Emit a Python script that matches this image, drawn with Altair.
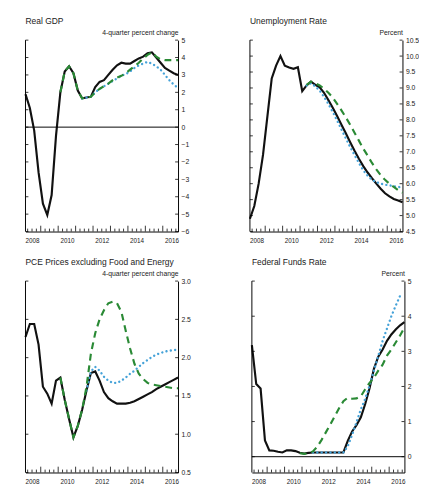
import altair as alt
import pandas as pd

# ---- data (quarterly, 2008Q1 .. 2016Q4) ----
years = list(range(2008, 2017))
quarter_pos = [y + (q - 0.5) / 4 for y in years for q in range(1, 5)]  # quarter centres
year_labels = [2008, 2010, 2012, 2014, 2016]

gdp_black = [1.9, 1.1, -0.2, -2.6, -4.4, -5.05, -3.9, -0.5, 2.0, 3.2, 3.5, 3.1,
             2.1, 1.65, 1.7, 1.75, 2.3, 2.6, 2.7, 3.0, 3.3, 3.55, 3.7, 3.65,
             3.65, 3.8, 3.95, 4.05, 4.25, 4.3, 4.0, 3.7, 3.4, 3.25, 3.1, 3.0]
gdp_green_start = 8
gdp_green = [2.0, 3.2, 3.5, 3.1, 2.1, 1.65, 1.7, 1.75,
             2.0, 2.2, 2.35, 2.5, 2.7, 2.85, 2.95, 3.1,
             3.3, 3.5, 3.7, 3.95, 4.15, 4.3, 4.05, 3.9, 3.85, 3.85, 3.85, 3.85]
gdp_blue_start = 13
gdp_blue = [1.65, 1.7, 1.75, 2.0, 2.2, 2.35, 2.5, 2.65, 2.8, 2.95, 3.05,
            3.2, 3.4, 3.55, 3.65, 3.75, 3.65, 3.5, 3.3, 3.0, 2.7, 2.45, 2.25]

ur_black = [4.9, 5.3, 6.0, 6.9, 8.1, 9.3, 9.7, 10.0, 9.7, 9.64, 9.6, 9.65,
            8.9, 9.08, 9.2, 9.1, 9.02, 8.85, 8.62, 8.38, 8.12, 7.85, 7.58, 7.3,
            7.03, 6.78, 6.55, 6.35, 6.17, 6.0, 5.84, 5.7, 5.6, 5.52, 5.47, 5.42]
ur_green_start = 13
ur_green = [9.1, 9.2, 9.15, 9.08, 8.98, 8.85, 8.7, 8.5, 8.3, 8.08, 7.85, 7.6,
            7.35, 7.1, 6.88, 6.65, 6.45, 6.27, 6.12, 6.0, 5.9, 5.8, 5.72]
ur_blue_start = 13
ur_blue = [9.08, 9.15, 9.05, 8.92, 8.72, 8.5, 8.25, 7.98, 7.7, 7.42, 7.15, 6.9,
           6.65, 6.42, 6.25, 6.12, 6.05, 6.0, 5.97, 5.95, 5.92, 5.9, 5.88]

pce_black = [2.27, 2.44, 2.44, 2.17, 1.62, 1.53, 1.4, 1.7, 1.74, 1.45, 1.2, 0.96,
             1.11, 1.32, 1.57, 1.8, 1.82, 1.7, 1.55, 1.47, 1.43, 1.4, 1.4, 1.4,
             1.41, 1.43, 1.46, 1.49, 1.52, 1.55, 1.59, 1.62, 1.65, 1.68, 1.71, 1.74]
pce_green_start = 8
pce_green = [1.74, 1.45, 1.2, 0.96, 1.11, 1.32, 1.62, 2.05,
             2.32, 2.5, 2.62, 2.71, 2.73, 2.71, 2.6, 2.35,
             2.12, 1.92, 1.79, 1.72, 1.67, 1.65, 1.64, 1.63, 1.62, 1.61, 1.6, 1.6]
pce_blue_start = 14
pce_blue = [1.57, 1.82, 1.88, 1.83, 1.75, 1.7, 1.67, 1.67, 1.7, 1.74, 1.79,
            1.83, 1.88, 1.93, 1.97, 2.01, 2.04, 2.06, 2.08, 2.09, 2.1, 2.1]

ffr_black = [3.18, 2.07, 1.94, 0.46, 0.18, 0.17, 0.14, 0.12, 0.18, 0.18, 0.16, 0.11,
             0.09, 0.11, 0.12, 0.12, 0.12, 0.12, 0.12, 0.12, 0.12, 0.12,
             0.45, 0.72, 0.9, 1.12, 1.5, 1.95, 2.5, 2.85, 3.05, 3.3, 3.48, 3.62, 3.74, 3.83]
ffr_green_start = 11
ffr_green = [0.1, 0.08, 0.1, 0.15, 0.28, 0.48, 0.7, 0.92, 1.15, 1.38, 1.58, 1.68,
             1.65, 1.66, 1.72, 1.92, 2.1, 2.25, 2.45, 2.62, 2.88, 3.05, 3.25, 3.45, 3.68]
ffr_blue_start = 14
ffr_blue = [0.12, 0.12, 0.12, 0.12, 0.12, 0.12, 0.12, 0.12, 0.3, 0.62, 0.98,
            1.35, 1.65, 2.03, 2.45, 2.87, 3.3, 3.65, 4.0, 4.3, 4.58]

# ---- styling ----
FONT = "Liberation Sans"
W, H = 157, 197
BLACK = "#111111"
GREEN = "#2a8a35"
BLUE = "#45a2d8"
X_DOMAIN = [2008.125, 2016.875]


def series_df(values, start):
    return pd.DataFrame({"t": quarter_pos[start:start + len(values)], "value": values})


def panel(title, black, green, gstart, blue, bstart, ydom, yticks, yfmt, unit_label, zero_line):
    xs = alt.Scale(domain=X_DOMAIN, nice=False, zero=False)
    ys = alt.Scale(domain=ydom, nice=False, zero=False)

    xaxis = alt.Axis(values=[y + 0.5 for y in year_labels], labelExpr="toString(floor(datum.value))",
                     ticks=False, grid=False, domain=True, domainColor="#000", domainWidth=1,
                     labelFont=FONT, labelFontSize=6.5, labelColor="#222", labelPadding=6,
                     labelFlush=False, title=None)
    yaxis = alt.Axis(orient="right", values=yticks, format=yfmt, ticks=False, grid=False,
                     domain=True, domainColor="#000", domainWidth=1,
                     labelFont=FONT, labelFontSize=7, labelColor="#222", labelPadding=3,
                     title=unit_label, titleAngle=0, titleAlign="right", titleBaseline="alphabetic",
                     titleX=0, titleY=-6, titleFont=FONT, titleFontSize=7, titleFontWeight="normal",
                     titleColor="#222")
    X = lambda: alt.X("t:Q", scale=xs, axis=xaxis)
    Y = lambda: alt.Y("value:Q", scale=ys, axis=yaxis)

    layers = []
    # main line (history + baseline projection)
    layers.append(alt.Chart(series_df(black, 0)).mark_line(color=BLACK, strokeWidth=2.2).encode(x=X(), y=Y()))
    # left axis line
    layers.append(alt.Chart(pd.DataFrame({"a": [0]})).mark_rule(color="#000", strokeWidth=1).encode(
        x=alt.value(0), y=alt.value(0), y2=alt.value(H)))
    # y ticks (inward, both sides)
    tdf = pd.DataFrame({"value": yticks})
    layers.append(alt.Chart(tdf).mark_rule(color="#000", strokeWidth=0.8).encode(
        y=Y(), x=alt.value(0), x2=alt.value(3)))
    layers.append(alt.Chart(tdf).mark_rule(color="#000", strokeWidth=0.8).encode(
        y=Y(), x=alt.value(W - 3), x2=alt.value(W)))
    # quarter and year ticks on bottom axis
    qb = [y + k / 4 for y in years for k in range(4) if X_DOMAIN[0] < y + k / 4 < X_DOMAIN[1]]
    minor = pd.DataFrame({"t": [v for v in qb if v != int(v)]})
    major = pd.DataFrame({"t": [v for v in qb if v == int(v)]})
    layers.append(alt.Chart(minor).mark_rule(color="#000", strokeWidth=0.8).encode(
        x=X(), y=alt.value(H), y2=alt.value(H - 3)))
    layers.append(alt.Chart(major).mark_rule(color="#000", strokeWidth=0.8).encode(
        x=X(), y=alt.value(H), y2=alt.value(H - 6)))
    if zero_line:
        layers.append(alt.Chart(pd.DataFrame({"value": [0]})).mark_rule(color="#000", strokeWidth=1).encode(
            y=Y()))

    layers.append(alt.Chart(series_df(blue, bstart)).mark_line(
        color=BLUE, strokeWidth=2.4, strokeDash=[0.1, 4.4], strokeCap="round").encode(x=X(), y=Y()))
    layers.append(alt.Chart(series_df(green, gstart)).mark_line(
        color=GREEN, strokeWidth=2.2, strokeDash=[7, 5]).encode(x=X(), y=Y()))

    return alt.layer(*layers).properties(
        width=W, height=H,
        title=alt.TitleParams(title, anchor="start", frame="group", font=FONT, fontSize=8.7,
                              fontWeight="normal", color="#222", offset=3))


gdp = panel("Real GDP", gdp_black, gdp_green, gdp_green_start, gdp_blue, gdp_blue_start,
            [-6, 5], list(range(-6, 6)), "d", "4-quarter percent change", True)
ur = panel("Unemployment Rate", ur_black, ur_green, ur_green_start, ur_blue, ur_blue_start,
           [4.5, 10.5], [4.5 + 0.5 * i for i in range(13)], ".1f", "Percent", False)
pce = panel("PCE Prices excluding Food and Energy", pce_black, pce_green, pce_green_start,
            pce_blue, pce_blue_start, [0.5, 3.0], [0.5, 1.0, 1.5, 2.0, 2.5, 3.0], ".1f",
            "4-quarter percent change", False)
ffr = panel("Federal Funds Rate", ffr_black, ffr_green, ffr_green_start, ffr_blue, ffr_blue_start,
            [-0.45, 5], [0, 1, 2, 3, 4, 5], "d", "Percent", True)

chart = alt.vconcat(
    alt.hconcat(gdp, ur, spacing=58),
    alt.hconcat(pce, ffr, spacing=58),
    spacing=14,
).properties(
    padding={"left": 13, "top": 2, "right": 0, "bottom": 0},
    background="white",
).configure_view(stroke=None)

chart.save("out.html", embed_options={"renderer": "svg", "actions": False})
